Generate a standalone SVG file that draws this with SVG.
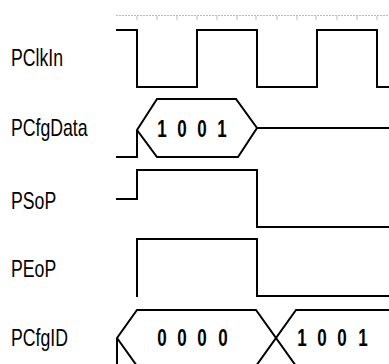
<svg xmlns="http://www.w3.org/2000/svg" width="389" height="364" viewBox="0 0 389 364">
<style>
.lbl{font-family:"Liberation Sans",Arial,sans-serif;font-size:17px;fill:#000}
.dig{font-family:"Liberation Sans",Arial,sans-serif;font-size:17px;font-weight:bold;fill:#000;text-anchor:middle}
.w{fill:none;stroke:#000;stroke-width:2;stroke-linejoin:miter}
.grid{fill:none;stroke:#bbb;stroke-width:1}
</style>
<rect width="389" height="364" fill="#fff"/>
<g id="ruler">
<line class="grid" x1="116" y1="15.5" x2="389" y2="15.5" stroke-dasharray="2,1"/>
<path class="grid" d="M137,16V20M157,16V20M177,16V20M197,16V20M217,16V20M237,16V20M256,16V20M277,16V20M297,16V20M316,16V20M337,16V20M357,16V20M377,16V20"/>
</g>
<g id="PClkIn">
<text class="lbl" transform="translate(11,66) scale(1.04,1.4)">PClkIn</text>
<path class="w" d="M116,30H137V87H197V30H257V87H317V30H377V87H389"/>
</g>
<g id="PCfgData">
<text class="lbl" transform="translate(11,136) scale(1.04,1.4)">PCfgData</text>
<path class="w" d="M116,157H137V130"/>
<path class="w" d="M137,130L157,99H236L257,128L238,157H157Z"/>
<path class="w" d="M257,128H389"/>
<g transform="translate(0,137) scale(1,1.4)">
<text class="dig" x="162" y="0">1</text>
<text class="dig" x="182" y="0">0</text>
<text class="dig" x="202" y="0">0</text>
<text class="dig" x="222" y="0">1</text>
</g>
</g>
<g id="PSoP">
<text class="lbl" transform="translate(11,209) scale(1.04,1.4)">PSoP</text>
<path class="w" d="M116,199H137V170H257V227H389"/>
</g>
<g id="PEoP">
<text class="lbl" transform="translate(11,277) scale(1.04,1.4)">PEoP</text>
<path class="w" d="M137,297V239H257V296H389"/>
</g>
<g id="PCfgID">
<text class="lbl" transform="translate(11,346) scale(1.04,1.4)">PCfgID</text>
<path class="w" d="M117,366V338L137,310H256L296,366"/>
<path class="w" d="M117,338L137,366"/>
<path class="w" d="M389,310H296L256,366"/>
<g transform="translate(0,346) scale(1,1.4)">
<text class="dig" x="162" y="0">0</text>
<text class="dig" x="182" y="0">0</text>
<text class="dig" x="202" y="0">0</text>
<text class="dig" x="223" y="0">0</text>
<text class="dig" x="302" y="0">1</text>
<text class="dig" x="322" y="0">0</text>
<text class="dig" x="342" y="0">0</text>
<text class="dig" x="363" y="0">1</text>
</g>
</g>
</svg>
